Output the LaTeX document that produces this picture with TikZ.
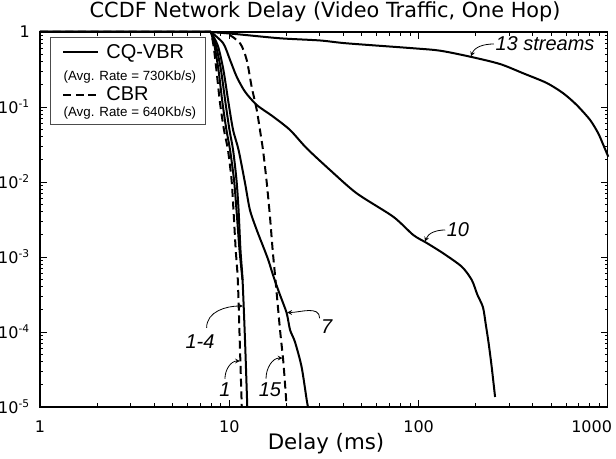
\documentclass[tikz,border=0pt]{standalone}
\usepackage{fontspec}
\setmainfont{DejaVu Sans}
\newfontfamily\legfont{Liberation Sans}

\begin{document}
\begin{tikzpicture}
  [x=141.975pt, y=56.25pt,
   curve/.style={line width=1.5pt, line join=round},
   cbr/.style={curve, dash pattern=on 6pt off 3.5pt},
   lbl/.style={font=\legfont\itshape\fontsize{15}{15}\selectfont, inner sep=1pt},
   lblarrow/.style={-stealth, line width=0.6pt},
   tick/.style={line width=0.6pt},
   ticklbl/.style={font=\fontsize{12}{12}\selectfont, inner sep=1pt}]

  \useasboundingbox (-0.2113,-0.6933) rectangle (3.0428,5.4267);

  \node (title) at (1.506,5.267) {\fontsize{15.6}{15.6}\selectfont CCDF Network Delay (Video Traffic, One Hop)};
  \node (xlabel) at (1.511,-0.493) {\fontsize{16}{16}\selectfont Delay (ms)};

  % frame and ticks
  \draw[line width=0.8pt] (0,0) rectangle (3,5);
  \foreach \d in {0,1,2}
    \foreach \m in {2,...,9} {
      \draw[tick] ({\d+ln(\m)/ln(10)},0) -- ++(0pt,3pt);
      \draw[tick] ({\d+ln(\m)/ln(10)},5) -- ++(0pt,-3pt);
    }
  \foreach \d in {0,...,4}
    \foreach \m in {2,...,9} {
      \draw[tick] (0,{\d+ln(\m)/ln(10)}) -- ++(2.5pt,0pt);
      \draw[tick] (3,{\d+ln(\m)/ln(10)}) -- ++(-2.5pt,0pt);
    }
  \foreach \x in {0,...,3} {
    \draw[tick] (\x,0) -- ++(0pt,5pt);
    \draw[tick] (\x,5) -- ++(0pt,-5pt);
  }
  \foreach \y in {0,...,5} {
    \draw[tick] (0,\y) -- ++(5pt,0pt);
    \draw[tick] (3,\y) -- ++(-5pt,0pt);
  }

  \node[ticklbl, anchor=north] (xt0) at (0,-0.16) {1};
  \node[ticklbl, anchor=north] (xt1) at (1,-0.16) {10};
  \node[ticklbl, anchor=north] (xt2) at (2,-0.16) {100};
  \node[ticklbl, anchor=north east] (xt3) at (3.03,-0.16) {1000};

  \node[ticklbl, anchor=east] (yt5) at (-0.045,5) {1};
  \foreach \y/\e in {4/1,3/2,2/3,1/4,0/5}
    \node[ticklbl, anchor=east] (yt\y) at (-0.045,\y) {10\textsuperscript{-\e}};

  % CBR
  \draw[cbr] (0,5) -- plot[smooth, tension=0.45] coordinates {(0.903,5) (0.917,4.813) (0.932,4.493)
    (0.951,4.053) (0.972,3.693) (0.993,3.427) (1.012,3.027) (1.022,2.627)
    (1.034,2.093) (1.045,1.693) (1.055,0.893) (1.066,0)};
  \draw[cbr] (0,5) -- plot[smooth, tension=0.45] coordinates {(0.903,5) (0.986,4.98) (1.057,4.849)
    (1.092,4.627) (1.118,4.271) (1.145,3.96) (1.162,3.693) (1.178,3.427)
    (1.198,2.987) (1.215,2.533) (1.229,2.093) (1.244,1.693) (1.268,1.027)
    (1.286,0.587) (1.303,0)};

  % CQ-VBR
  \draw[curve] (0,5) -- plot[smooth, tension=0.45] coordinates {(0.903,5) (0.922,4.813) (0.943,4.493)
    (0.964,4.053) (0.985,3.693) (1.004,3.427) (1.025,3.027) (1.038,2.627)
    (1.054,2.093) (1.070,1.693)};
  \draw[curve] (0,5) -- plot[smooth, tension=0.45] coordinates {(0.903,5) (0.930,4.813) (0.956,4.493)
    (0.980,4.053) (1.001,3.693) (1.020,3.427) (1.038,3.027) (1.049,2.627)
    (1.059,2.093) (1.070,1.693) (1.083,0.893) (1.095,0)};
  \draw[curve] (0,5) -- plot[smooth, tension=0.45] coordinates {(0.903,5) (0.940,4.813) (0.969,4.493)
    (0.996,4.053) (1.020,3.693) (1.049,3.427) (1.083,2.987) (1.109,2.627)
    (1.145,2.36) (1.180,2.133) (1.206,1.96) (1.236,1.72) (1.268,1.493)
    (1.303,1.253) (1.321,1.027) (1.347,0.867) (1.382,0.533) (1.409,0.093)
    (1.416,0)};
  \draw[curve] (0,5) -- plot[smooth, tension=0.45] coordinates {(0.903,5) (0.968,4.849) (1.004,4.627)
    (1.039,4.404) (1.083,4.204) (1.145,4.027) (1.232,3.871) (1.321,3.693)
    (1.409,3.449) (1.532,3.16) (1.673,2.849) (1.866,2.537) (1.972,2.293)
    (2.043,2.187) (2.130,2.049) (2.228,1.871) (2.281,1.693) (2.310,1.50)
    (2.340,1.33) (2.355,1.10) (2.370,0.85) (2.386,0.537) (2.404,0.133)};
  \draw[curve] (0,5) -- plot[smooth, tension=0.45] coordinates {(0.903,5) (0.986,4.983) (1.057,4.967)
    (1.268,4.916) (1.479,4.887) (1.620,4.849) (1.972,4.783) (2.113,4.751)
    (2.272,4.671) (2.430,4.573) (2.553,4.449) (2.677,4.32) (2.764,4.183)
    (2.835,4.027) (2.906,3.827) (2.949,3.649) (2.976,3.493) (3.002,3.337)};

  % curve labels
  \coordinate (p13) at (2.277,4.675);
  \coordinate (p10) at (2.034,2.205);
  \coordinate (p7) at (1.306,1.26);
  \coordinate (p14) at (1.072,1.347);
  \coordinate (p1) at (1.056,0.613);
  \coordinate (p15) at (1.281,0.653);

  \node[lbl] (l13) at (2.668,4.84) {13 streams};
  \node[lbl] (l10) at (2.208,2.36) {10};
  \node[lbl] (l7) at (1.515,1.071) {7};
  \node[lbl] (l14) at (0.845,0.871) {1-4};
  \node[lbl] (l1) at (0.977,0.227) {1};
  \node[lbl] (l15) at (1.215,0.227) {15};

  \draw[lblarrow] (l13.west) to[out=180,in=70] (p13);
  \draw[lblarrow] (l10.west) to[out=180,in=70] (p10);
  \draw[lblarrow] (l7.north west) to[out=90,in=0] (p7);
  \draw[lblarrow] ([xshift=5pt,yshift=4pt]l14.north) to[out=90,in=180] (p14);
  \draw[lblarrow] ([yshift=2pt]l1.north) to[out=90,in=180] (p1);
  \draw[lblarrow] ([xshift=-3pt,yshift=2pt]l15.north) to[out=90,in=180] (p15);

  % legend
  \draw[black!70, line width=0.6pt, fill=white] (0.053,3.773) rectangle (0.872,4.933);
  \draw[curve] (0.122,4.733) -- (0.306,4.733);
  \node[anchor=base west, inner sep=0pt, font=\legfont\fontsize{15}{15}\selectfont] (vbr) at (0.349,4.653) {CQ-VBR};
  \node[inner sep=0pt, font=\legfont\fontsize{10}{10}\selectfont] (vbrrate) at (0.475,4.40) {(Avg. Rate = 730Kb/s)};
  \draw[cbr] (0.122,4.16) -- (0.306,4.16);
  \node[anchor=base west, inner sep=0pt, font=\legfont\fontsize{15}{15}\selectfont] (cbr) at (0.349,4.087) {CBR};
  \node[inner sep=0pt, font=\legfont\fontsize{10}{10}\selectfont] (cbrrate) at (0.475,3.925) {(Avg. Rate = 640Kb/s)};
\end{tikzpicture}
\end{document}
